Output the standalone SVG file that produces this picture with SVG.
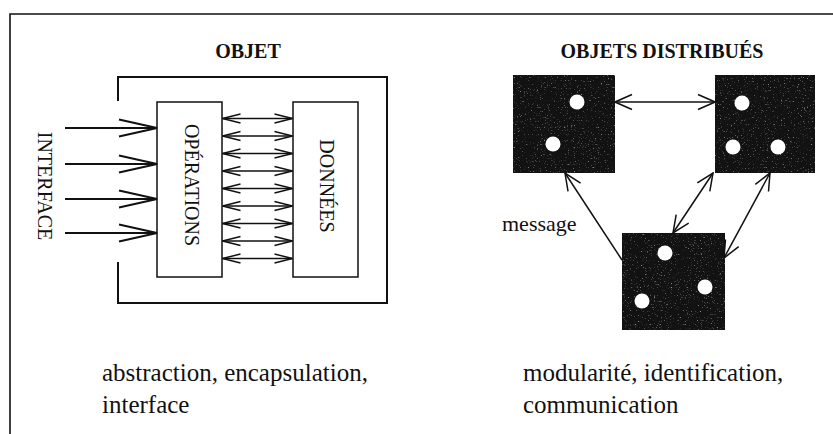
<svg xmlns="http://www.w3.org/2000/svg" width="833" height="434" viewBox="0 0 833 434">
  <style>
    .txt { font-family: "Liberation Serif", "Times New Roman", serif; fill: #111; }
    .title { font-size: 20px; font-weight: bold; }
    .label { font-size: 20px; }
    .caption { font-size: 25px; }
    .frame { fill: none; stroke: #111; stroke-width: 1.6; }
    .box { fill: #fff; stroke: #111; stroke-width: 1.5; }
    .wire { fill: none; stroke: #111; stroke-width: 1.5; }
    .iface { fill: none; stroke: #111; stroke-width: 2; }
    .node { fill: #121212; }
    .dot { fill: #fff; }
  </style>
  <defs>
    <!-- long open arrowhead for the interface inputs -->
    <marker id="headIface" viewBox="0 0 40 20" refX="39" refY="10" markerWidth="40" markerHeight="20" markerUnits="userSpaceOnUse" orient="auto">
      <path d="M1,1.5 L39,10 L1,18.5" fill="none" stroke="#111" stroke-width="2"/>
    </marker>
    <!-- open arrowheads for the internal double arrows -->
    <marker id="headSmall" viewBox="0 0 20 12" refX="19" refY="6" markerWidth="20" markerHeight="12" markerUnits="userSpaceOnUse" orient="auto-start-reverse">
      <path d="M1,1.5 L19,6 L1,10.5" fill="none" stroke="#111" stroke-width="1.4"/>
    </marker>
    <!-- open arrowheads for messages between distributed objects -->
    <marker id="headMsg" viewBox="0 0 20 18" refX="19" refY="9" markerWidth="20" markerHeight="18" markerUnits="userSpaceOnUse" orient="auto-start-reverse">
      <path d="M2,1.5 L19,9 L2,16.5" fill="none" stroke="#111" stroke-width="1.5"/>
    </marker>
    <!-- sparse grey grain on the dark object squares -->
    <filter id="grain" x="0" y="0" width="1" height="1">
      <feTurbulence type="fractalNoise" baseFrequency="0.7" numOctaves="2" seed="11" result="noise"/>
      <feColorMatrix in="noise" type="matrix" values="0 0 0 0 0.5  0 0 0 0 0.5  0 0 0 0 0.5  3 0 0 0 -1.9"/>
      <feComposite in2="SourceGraphic" operator="in"/>
    </filter>
  </defs>

  <!-- page frame (top and left rules) -->
  <path class="frame" d="M10,434 V14 H833"/>

  <!-- left panel: one object -->
  <text class="txt title" x="248" y="58" text-anchor="middle">OBJET</text>

  <g id="objet">
    <path d="M118,101 V77 H387 V303 H118 V262" fill="none" stroke="#111" stroke-width="2"/>
  </g>

  <g id="operations">
    <rect class="box" x="157" y="102" width="65" height="175"/>
    <text class="txt label" transform="translate(185,185) rotate(90)" text-anchor="middle">OPÉRATIONS</text>
  </g>

  <g id="donnees">
    <rect class="box" x="293" y="102" width="65" height="175"/>
    <text class="txt label" transform="translate(320,186) rotate(90)" text-anchor="middle">DONNÉES</text>
  </g>

  <g id="interface">
    <text class="txt label" transform="translate(38,186) rotate(90)" text-anchor="middle">INTERFACE</text>
  </g>

  <g id="connectors-objet">
    <!-- interface inputs -->
    <line class="iface" x1="65" y1="128" x2="157" y2="128" marker-end="url(#headIface)"/>
    <line class="iface" x1="65" y1="164" x2="157" y2="164" marker-end="url(#headIface)"/>
    <line class="iface" x1="65" y1="199" x2="157" y2="199" marker-end="url(#headIface)"/>
    <line class="iface" x1="65" y1="233" x2="157" y2="233" marker-end="url(#headIface)"/>
    <!-- operations / data exchanges -->
    <line class="wire" x1="222.5" y1="118.5" x2="292.5" y2="118.5" marker-start="url(#headSmall)" marker-end="url(#headSmall)"/>
    <line class="wire" x1="222.5" y1="136" x2="292.5" y2="136" marker-start="url(#headSmall)" marker-end="url(#headSmall)"/>
    <line class="wire" x1="222.5" y1="153.5" x2="292.5" y2="153.5" marker-start="url(#headSmall)" marker-end="url(#headSmall)"/>
    <line class="wire" x1="222.5" y1="171" x2="292.5" y2="171" marker-start="url(#headSmall)" marker-end="url(#headSmall)"/>
    <line class="wire" x1="222.5" y1="188.5" x2="292.5" y2="188.5" marker-start="url(#headSmall)" marker-end="url(#headSmall)"/>
    <line class="wire" x1="222.5" y1="206" x2="292.5" y2="206" marker-start="url(#headSmall)" marker-end="url(#headSmall)"/>
    <line class="wire" x1="222.5" y1="223.5" x2="292.5" y2="223.5" marker-start="url(#headSmall)" marker-end="url(#headSmall)"/>
    <line class="wire" x1="222.5" y1="241" x2="292.5" y2="241" marker-start="url(#headSmall)" marker-end="url(#headSmall)"/>
    <line class="wire" x1="222.5" y1="258.5" x2="292.5" y2="258.5" marker-start="url(#headSmall)" marker-end="url(#headSmall)"/>
  </g>

  <text class="txt caption" x="102" y="381">abstraction, encapsulation,</text>
  <text class="txt caption" x="102" y="413">interface</text>

  <!-- right panel: distributed objects -->
  <text class="txt title" x="662" y="58" text-anchor="middle">OBJETS DISTRIBUÉS</text>

  <g id="objet-a">
    <rect class="node" x="513" y="75" width="102" height="98"/>
    <rect x="513" y="75" width="102" height="98" fill="#000" filter="url(#grain)"/>
    <circle class="dot" cx="577" cy="102" r="7.5"/>
    <circle class="dot" cx="553" cy="144" r="7.5"/>
  </g>

  <g id="objet-b">
    <rect class="node" x="715" y="75" width="100" height="98"/>
    <rect x="715" y="75" width="100" height="98" fill="#000" filter="url(#grain)"/>
    <circle class="dot" cx="742" cy="103" r="7.5"/>
    <circle class="dot" cx="733" cy="147" r="7.5"/>
    <circle class="dot" cx="778" cy="147" r="7.5"/>
  </g>

  <g id="objet-c">
    <rect class="node" x="622" y="233" width="103" height="97"/>
    <rect x="622" y="233" width="103" height="97" fill="#000" filter="url(#grain)"/>
    <circle class="dot" cx="665" cy="253" r="7.5"/>
    <circle class="dot" cx="705" cy="287" r="7.5"/>
    <circle class="dot" cx="642" cy="301" r="7.5"/>
  </g>

  <g id="connectors-distribues">
    <line class="wire" x1="615" y1="102" x2="715" y2="102" marker-start="url(#headMsg)" marker-end="url(#headMsg)"/>
    <line class="wire" x1="622" y1="260" x2="565" y2="173" marker-end="url(#headMsg)"/>
    <line class="wire" x1="713" y1="173" x2="673" y2="233" marker-start="url(#headMsg)" marker-end="url(#headMsg)"/>
    <line class="wire" x1="770" y1="173" x2="724" y2="258" marker-start="url(#headMsg)" marker-end="url(#headMsg)"/>
  </g>

  <text class="txt label" x="502" y="231" style="font-size:22px">message</text>

  <text class="txt caption" x="523" y="381">modularité, identification,</text>
  <text class="txt caption" x="523" y="413">communication</text>
</svg>
